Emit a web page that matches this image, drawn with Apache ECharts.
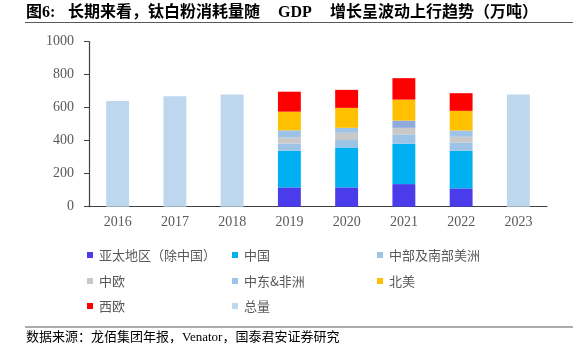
<!DOCTYPE html>
<html>
<head>
<meta charset="utf-8">
<script src="https://cdn.jsdelivr.net/npm/echarts@6/dist/echarts.min.js"></script>
<style>html,body{margin:0;padding:0;background:#fff}#c{width:573px;height:351px}</style>
</head>
<body>
<div id="c"></div>
<script>
var years = ['2016', '2017', '2018', '2019', '2020', '2021', '2022', '2023'];
var asiaPacific = [null, null, null, 117, 117, 137, 111, null];
var china = [null, null, null, 222, 242, 244, 228, null];
var centralSouthAmerica = [null, null, null, 44, 45, 57, 50, null];
var centralEurope = [null, null, null, 36, 44, 40, 35, null];
var middleEastAfrica = [null, null, null, 44, 30, 44, 38, null];
var northAmerica = [null, null, null, 113, 121, 127, 119, null];
var westernEurope = [null, null, null, 121, 109, 130, 107, null];
var total = [640, 670, 680, null, null, null, null, 680];
var yTicks = [0, 200, 400, 600, 800, 1000];

var serifCJK = "'Liberation Serif','Noto Sans CJK SC',serif";
var chart = echarts.init(document.getElementById('c'), null, {renderer: 'canvas'});

function bar(name, data, color, stack) {
  return {
    name: name, type: 'bar', stack: stack || 'region', data: data,
    barWidth: '40%', barGap: '-100%',
    itemStyle: {color: color},
    emphasis: {disabled: true}
  };
}

var meaData = middleEastAfrica.map(function (v, i) {
  return years[i] === '2021' ? {value: v, itemStyle: {color: '#8FAADC'}} : v;
});

var legendDefs = [
  ['亚太地区（除中国）', 87, 248],
  ['中国', 232, 248],
  ['中部及南部美洲', 377, 248],
  ['中欧', 87, 274],
  ['中东&非洲', 232, 274],
  ['北美', 377, 274],
  ['西欧', 87, 299],
  ['总量', 232, 299]
];
var legends = legendDefs.map(function (d) {
  return {
    data: [d[0]], left: d[1], top: d[2], padding: 0,
    itemWidth: 6, itemHeight: 6, icon: 'rect', itemGap: 0,
    selectedMode: false,
    textStyle: {fontFamily: "'Noto Sans CJK SC',sans-serif", fontSize: 13, color: '#595959', lineHeight: 14, padding: [0, 0, 0, 1]}
  };
});

function txt(text, x, y, size, bold, align) {
  return {
    type: 'text', x: x, y: y, silent: true,
    style: {
      text: text, fill: '#000',
      font: (bold ? 'bold ' : '') + size + 'px ' + serifCJK,
      align: align || 'left', verticalAlign: 'middle',
      textAlign: align || 'left', textVerticalAlign: 'middle'
    }
  };
}

var option = {
  animation: false,
  backgroundColor: '#fff',
  grid: {left: 89, right: 26, top: 41.7, bottom: 144.3, containLabel: false},
  legend: legends,
  xAxis: {
    type: 'category', data: years,
    axisLine: {lineStyle: {color: '#404040', width: 1.2}},
    axisTick: {show: false},
    axisLabel: {fontFamily: "'Liberation Serif',serif", fontSize: 14, color: '#595959', margin: 9}
  },
  yAxis: {
    type: 'value', min: yTicks[0], max: yTicks[yTicks.length - 1], interval: 200,
    splitLine: {show: false},
    axisLine: {show: true, lineStyle: {color: '#404040', width: 1.2}},
    axisTick: {show: true, inside: false, length: 5, lineStyle: {color: '#404040'}},
    axisLabel: {fontFamily: "'Liberation Serif',serif", fontSize: 14, color: '#595959', margin: 15,
      formatter: function (v) { return String(v); }}
  },
  series: [
    bar('亚太地区（除中国）', asiaPacific, '#4A3CEB'),
    bar('中国', china, '#00B0F0'),
    bar('中部及南部美洲', centralSouthAmerica, '#9DC3E6'),
    bar('中欧', centralEurope, '#C9C9C9'),
    bar('中东&非洲', meaData, '#9DC3E6'),
    bar('北美', northAmerica, '#FFC000'),
    bar('西欧', westernEurope, '#FF0000'),
    bar('总量', total, '#BDD7EE', 'total')
  ],
  graphic: [
    txt('图6:', 26, 13, 16, true),
    txt('长期来看，钛白粉消耗量随', 68, 13, 16, true),
    txt('GDP', 295, 13, 16, true, 'center'),
    txt('增长呈波动上行趋势（万吨）', 330, 13, 16, true),
    {type: 'line', silent: true, shape: {x1: 25, y1: 22.5, x2: 573, y2: 22.5}, style: {stroke: '#595959', lineWidth: 1}},
    {type: 'line', silent: true, shape: {x1: 25, y1: 327, x2: 573, y2: 327}, style: {stroke: '#595959', lineWidth: 1}},
    txt('数据来源：龙佰集团年报，Venator，国泰君安证券研究', 26, 337.5, 13, false)
  ]
};
chart.setOption(option);
</script>
</body>
</html>
